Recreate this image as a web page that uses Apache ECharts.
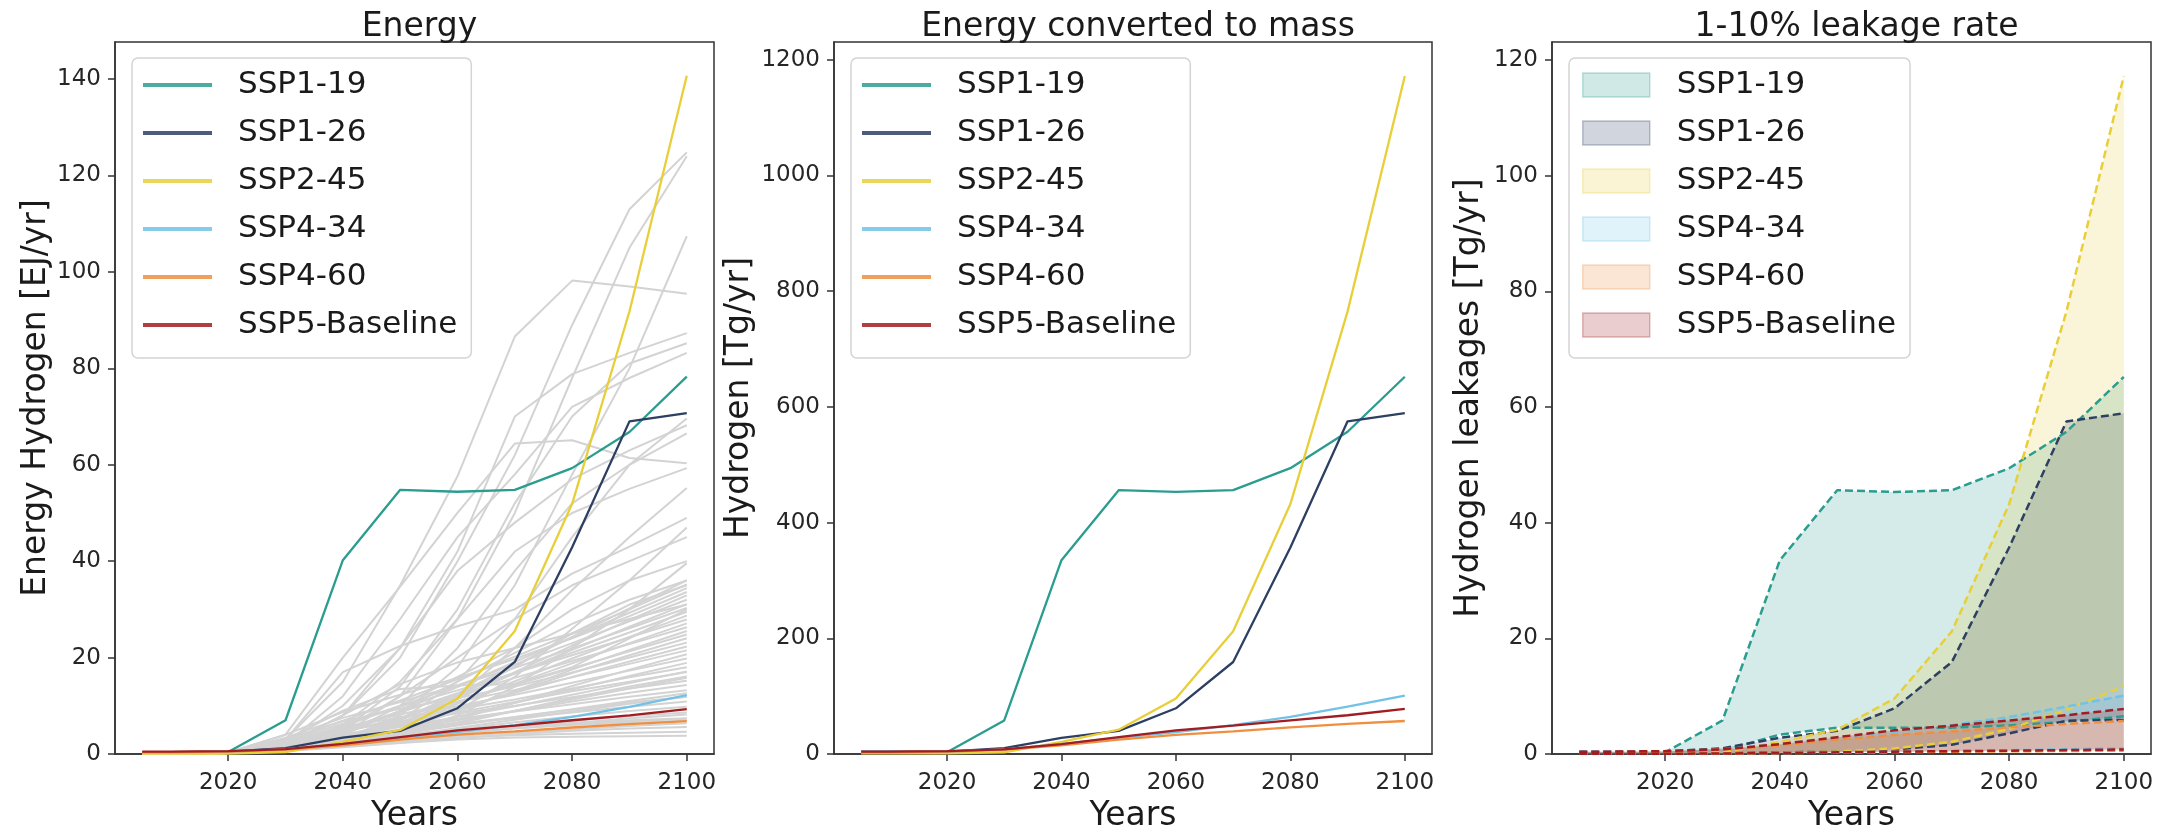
<!DOCTYPE html>
<html>
<head>
<meta charset="utf-8">
<script src="https://cdn.jsdelivr.net/npm/echarts@6/dist/echarts.min.js"></script>
<style>
html,body{margin:0;padding:0;background:#fff;overflow:hidden;}
#chart{width:2175px;height:838px;}
</style>
</head>
<body>
<div id="chart"></div>
<script>
// ---------- DATA ----------
const years = [2005, 2010, 2020, 2030, 2040, 2050, 2060, 2070, 2080, 2090, 2100];
const scenarios = ['SSP1-19', 'SSP1-26', 'SSP2-45', 'SSP4-34', 'SSP4-60', 'SSP5-Baseline'];
const scenarioColors = ['#2a9d8f', '#2d3f62', '#e8cf3a', '#72c2e6', '#ef8f3f', '#a11d21'];
const scenarioRGB = ['42,157,143', '45,63,98', '232,207,58', '114,194,230', '239,143,63', '161,29,33'];

const xTicks = [2020, 2040, 2060, 2080, 2100];
const energyTicks = [0, 20, 40, 60, 80, 100, 120, 140];
const massTicks = [0, 200, 400, 600, 800, 1000, 1200];
const leakTicks = [0, 20, 40, 60, 80, 100, 120];

const titles = ['Energy', 'Energy converted to mass', '1-10% leakage rate'];
const yNames = ['Energy Hydrogen [EJ/yr]', 'Hydrogen [Tg/yr]', 'Hydrogen leakages [Tg/yr]'];
const xName = 'Years';

// Panel 1: energy [EJ/yr]
const energySSP119 = [0.3, 0.3, 0.4, 7.0, 40.2, 54.8, 54.4, 54.8, 59.3, 66.8, 78.3];
const energySSP126 = [0.4, 0.4, 0.5, 1.2, 3.4, 4.8, 9.5, 19.1, 42.9, 69.0, 70.7];
const energySSP245 = [0.1, 0.1, 0.1, 0.4, 2.5, 5.0, 11.5, 25.5, 51.9, 91.8, 140.7];
const energySSP434 = [0.4, 0.4, 0.5, 1.0, 2.0, 3.4, 4.6, 6.0, 7.7, 9.8, 12.2];
const energySSP460 = [0.4, 0.4, 0.5, 0.9, 1.8, 3.0, 4.0, 4.7, 5.5, 6.2, 6.8];
const energySSP5 = [0.5, 0.5, 0.6, 1.0, 2.1, 3.5, 4.9, 5.9, 7.0, 8.0, 9.3];

// Panel 1: other scenarios (grey)
const otherScenarios = [
  [0, 0, 0.2, 2, 8, 20, 40, 62, 89, 113, 124.8],
  [0, 0, 0.2, 1, 4, 12, 28, 50, 78, 105, 124],
  [0, 0, 0.3, 3, 15, 35, 57.6, 86.6, 98.2, 97, 95.5],
  [0, 0, 0.2, 1, 3, 8, 18, 35, 58, 80, 107.4],
  [0, 0, 0.3, 2, 10, 22, 42, 70, 78.8, 83.2, 87.3],
  [0, 0, 0.2, 1, 5, 14, 30, 52, 70, 81, 85.2],
  [0, 0, 0.3, 4, 20, 34.7, 50, 64.4, 65.1, 61.4, 60.3],
  [0, 0, 0.2, 2, 12, 28, 45, 58, 72, 78, 83.2],
  [0, 0, 0.2, 1, 3, 7, 15, 28, 45, 60, 69.6],
  [0, 0, 0.2, 2, 8, 22, 38, 48, 57, 63, 68.2],
  [0, 0, 0.2, 1, 4, 10, 22, 38, 52, 60, 66.5],
  [0, 0, 0.2, 1.5, 6, 15, 28, 42, 50, 55, 59.3],
  [0, 0, 0.2, 1, 3, 6, 12, 22, 34, 45, 55.2],
  [0, 0, 0.2, 3, 17, 22.4, 26.5, 30, 37.4, 43, 49],
  [0, 0, 0.2, 1, 3, 5, 9, 16, 26, 36, 47],
  [0, 0, 0.2, 1, 5, 12, 20, 28, 35, 40, 45],
  [0, 0, 0.2, 2, 6, 10, 16, 22, 30, 36, 40],
  [0, 0, 0.2, 1, 2, 4, 8, 14, 22, 30, 39.6],
  [0, 0, 0.2, 1, 4, 9, 15, 21, 27, 32, 36],
  [0, 0, 0.2, 1, 3, 7, 12, 18, 25, 31, 35],
  [0.2, 0.2, 0.3, 3, 9, 13.5, 14.2, 14.5, 18, 24, 30],
  [0.2, 0.2, 0.3, 2, 8, 14.5, 19, 22, 25, 28, 31],
  [0.1, 0.1, 0.2, 0.6, 1.4, 2.3, 3.0, 3.4, 3.6, 3.7, 3.8],
  [0.2, 0.2, 0.3, 0.8, 1.7, 2.6, 3.4, 3.9, 4.2, 4.4, 4.6],
  [0.2, 0.2, 0.3, 0.7, 1.5, 2.4, 3.3, 4.1, 4.8, 5.3, 5.6],
  [0.3, 0.3, 0.4, 1.1, 2.1, 3.0, 3.8, 4.4, 5.1, 5.8, 6.4],
  [0.2, 0.2, 0.3, 0.9, 2.3, 3.5, 4.4, 5.3, 6.1, 6.8, 7.3],
  [0.2, 0.2, 0.3, 1.3, 2.9, 4.1, 5.0, 5.9, 6.9, 7.9, 8.6],
  [0.2, 0.2, 0.2, 0.8, 2.0, 3.6, 5.1, 6.6, 7.8, 8.9, 9.8],
  [0.3, 0.3, 0.4, 1.5, 3.4, 5.0, 6.3, 7.4, 8.6, 9.8, 10.9],
  [0.2, 0.2, 0.3, 1.0, 2.5, 4.2, 5.9, 7.6, 9.2, 10.7, 11.9],
  [0.2, 0.2, 0.3, 1.8, 4.1, 5.9, 7.3, 8.8, 10.3, 11.9, 13.2],
  [0.2, 0.2, 0.3, 1.2, 3.0, 5.1, 7.0, 8.9, 10.9, 12.7, 14.3],
  [0.3, 0.3, 0.4, 2.1, 4.8, 6.8, 8.4, 10.0, 11.8, 13.6, 15.2],
  [0.2, 0.2, 0.3, 0.9, 2.2, 4.0, 6.3, 8.9, 11.6, 14.0, 16.1],
  [0.2, 0.2, 0.3, 1.6, 3.9, 6.3, 8.6, 10.8, 13.0, 15.0, 17.0],
  [0.2, 0.2, 0.3, 2.6, 5.6, 7.6, 9.3, 11.3, 13.6, 15.9, 18.0],
  [0.2, 0.2, 0.3, 1.1, 2.7, 5.0, 7.8, 10.6, 13.4, 16.2, 18.9],
  [0.3, 0.3, 0.4, 1.9, 4.6, 7.3, 9.9, 12.3, 14.8, 17.3, 19.8],
  [0.2, 0.2, 0.3, 0.7, 1.9, 4.1, 7.2, 10.6, 14.1, 17.5, 20.7],
  [0.2, 0.2, 0.3, 2.3, 5.4, 8.2, 10.8, 13.3, 15.9, 18.7, 21.5],
  [0.2, 0.2, 0.3, 1.4, 3.6, 6.4, 9.5, 12.7, 16.0, 19.2, 22.3],
  [0.2, 0.2, 0.3, 3.0, 6.8, 9.4, 11.6, 14.0, 16.9, 20.0, 23.1],
  [0.3, 0.3, 0.4, 1.2, 3.1, 5.9, 9.2, 12.9, 16.8, 20.5, 24.0],
  [0.2, 0.2, 0.3, 1.7, 4.4, 7.6, 10.9, 14.3, 17.8, 21.3, 24.8],
  [0.2, 0.2, 0.3, 0.8, 2.3, 5.0, 8.8, 13.1, 17.5, 21.6, 25.5],
  [0.2, 0.2, 0.3, 2.0, 5.2, 8.8, 12.3, 15.8, 19.3, 22.8, 26.3],
  [0.2, 0.2, 0.3, 1.3, 3.4, 6.6, 10.5, 14.6, 18.8, 23.0, 27.1],
  [0.2, 0.2, 0.3, 2.7, 6.3, 9.8, 13.2, 16.8, 20.5, 24.2, 27.9],
  [0.3, 0.3, 0.4, 1.0, 2.8, 6.0, 10.4, 15.1, 19.8, 24.3, 28.7],
  [0.2, 0.2, 0.3, 1.9, 4.9, 8.6, 12.6, 16.8, 21.0, 25.2, 29.5],
  [0.2, 0.2, 0.3, 3.4, 7.5, 10.8, 14.2, 17.9, 21.9, 26.1, 30.3],
  [0.2, 0.2, 0.3, 1.2, 3.5, 7.2, 11.8, 16.7, 21.6, 26.4, 31.1],
  [0.2, 0.2, 0.3, 2.3, 5.8, 9.9, 14.2, 18.6, 23.0, 27.5, 32.0],
  [0.2, 0.2, 0.3, 0.9, 2.6, 6.3, 11.4, 17.0, 22.5, 27.8, 32.9],
  [0.2, 0.2, 0.3, 4.0, 8.7, 12.3, 15.8, 19.7, 24.0, 28.6, 33.6],
  [0.2, 0.2, 0.3, 1.6, 4.6, 8.9, 13.9, 19.1, 24.2, 29.3, 34.4],
  [0.2, 0.2, 0.3, 2.8, 6.9, 11.1, 15.5, 20.2, 25.0, 30.0, 35.2],
  [0.2, 0.2, 0.3, 1.1, 3.2, 7.1, 12.5, 18.4, 24.3, 30.2, 36.0],
  [0.2, 0.2, 0.3, 1.0, 2.4, 3.9, 5.0, 5.8, 6.5, 7.0, 7.4],
  [0.2, 0.2, 0.3, 0.8, 1.9, 3.1, 4.3, 5.4, 6.4, 7.4, 8.2],
  [0.2, 0.2, 0.3, 1.2, 2.6, 3.8, 4.7, 5.4, 6.0, 6.5, 6.9],
  [0.2, 0.2, 0.3, 0.9, 2.2, 3.7, 5.4, 7.1, 8.8, 10.4, 11.9],
  [0.2, 0.2, 0.3, 1.4, 3.1, 4.7, 6.2, 7.7, 9.3, 11.0, 12.6],
  [0.2, 0.2, 0.3, 1.1, 2.5, 4.4, 6.6, 9.0, 11.3, 13.6, 15.8],
  [0.2, 0.2, 0.3, 1.6, 3.6, 5.6, 7.7, 9.9, 12.3, 14.7, 17.1]
];

// Panel 2: mass [Tg/yr]
const massSSP119 = [3, 3, 3, 58, 335, 456, 453, 456, 494, 557, 652];
const massSSP126 = [4, 4, 4, 10, 28, 40, 79, 159, 357, 575, 589];
const massSSP245 = [1, 1, 1, 3, 21, 42, 96, 212, 432, 765, 1172];
const massSSP434 = [4, 4, 4, 8, 17, 28, 38, 50, 64, 82, 101];
const massSSP460 = [3, 3, 4, 7.5, 15, 25, 33, 39, 46, 52, 57];
const massSSP5 = [4, 4, 5, 8, 17, 29, 41, 49, 58, 67, 78];

// Panel 3: leakage band, 10% (upper) and 1% (lower) [Tg/yr]
const leakHighSSP119 = [0.3, 0.3, 0.3, 5.8, 33.5, 45.6, 45.3, 45.6, 49.4, 55.7, 65.2];
const leakLowSSP119 = [0.03, 0.03, 0.03, 0.58, 3.35, 4.56, 4.53, 4.56, 4.94, 5.57, 6.52];
const leakHighSSP126 = [0.4, 0.4, 0.4, 1.0, 2.8, 4.0, 7.9, 15.9, 35.7, 57.5, 58.9];
const leakLowSSP126 = [0.04, 0.04, 0.04, 0.1, 0.28, 0.4, 0.79, 1.59, 3.57, 5.75, 5.89];
const leakHighSSP245 = [0.1, 0.1, 0.1, 0.3, 2.1, 4.2, 9.6, 21.2, 43.2, 76.5, 117.2];
const leakLowSSP245 = [0.01, 0.01, 0.01, 0.03, 0.21, 0.42, 0.96, 2.12, 4.32, 7.65, 11.72];
const leakHighSSP434 = [0.4, 0.4, 0.4, 0.8, 1.7, 2.8, 3.8, 5.0, 6.4, 8.2, 10.1];
const leakLowSSP434 = [0.04, 0.04, 0.04, 0.08, 0.17, 0.28, 0.38, 0.5, 0.64, 0.82, 1.01];
const leakHighSSP460 = [0.3, 0.3, 0.4, 0.75, 1.5, 2.5, 3.3, 3.9, 4.6, 5.2, 5.7];
const leakLowSSP460 = [0.03, 0.03, 0.04, 0.08, 0.15, 0.25, 0.33, 0.39, 0.46, 0.52, 0.57];
const leakHighSSP5 = [0.4, 0.4, 0.5, 0.8, 1.7, 2.9, 4.1, 4.9, 5.8, 6.7, 7.8];
const leakLowSSP5 = [0.04, 0.04, 0.05, 0.08, 0.17, 0.29, 0.41, 0.49, 0.58, 0.67, 0.78];

// ---------- BUILD ----------
const energyData = [energySSP119, energySSP126, energySSP245, energySSP434, energySSP460, energySSP5];
const massData = [massSSP119, massSSP126, massSSP245, massSSP434, massSSP460, massSSP5];
const leakHigh = [leakHighSSP119, leakHighSSP126, leakHighSSP245, leakHighSSP434, leakHighSSP460, leakHighSSP5];
const leakLow = [leakLowSSP119, leakLowSSP126, leakLowSSP245, leakLowSSP434, leakLowSSP460, leakLowSSP5];

const FONT = "'DejaVu Sans', sans-serif";
const TXT = '#1a1a1a';
const pair = arr => years.map((y, i) => [y, arr[i]]);

const grids = [
  {left: 115, top: 42, width: 599, height: 721},
  {left: 834, top: 42, width: 598, height: 721},
  {left: 1552, top: 42, width: 599, height: 721}
];
const yMax = [147.7, 1230.6, 123.1];
const yTickSets = [energyTicks, massTicks, leakTicks];
const yNameGap = [60, 78, 66];

const fmt = v => String(v);

const option = {
  animation: false,
  backgroundColor: '#ffffff',
  textStyle: {fontFamily: FONT},
  title: titles.map((t, i) => ({
    text: t,
    left: grids[i].left + grids[i].width / 2,
    textAlign: 'center',
    top: 6,
    textStyle: {fontSize: 33, fontWeight: 'normal', color: TXT, fontFamily: FONT}
  })),
  grid: grids.map(g => Object.assign({show: true, borderColor: '#333', borderWidth: 1.5, backgroundColor: 'transparent', containLabel: false}, g)),
  xAxis: grids.map((g, i) => ({
    type: 'value', gridIndex: i, min: 2000.25, max: 2104.75,
    name: xName, nameLocation: 'middle', nameGap: 46,
    nameTextStyle: {fontSize: 33, color: TXT, fontFamily: FONT},
    axisLine: {show: true, onZero: false, lineStyle: {color: '#333', width: 1.5}},
    axisTick: {show: true, length: 7, customValues: xTicks, lineStyle: {color: '#333', width: 1.5}},
    axisLabel: {customValues: xTicks, fontSize: 23, color: '#262626', margin: 18, fontFamily: FONT, formatter: fmt},
    splitLine: {show: false}
  })),
  yAxis: grids.map((g, i) => ({
    type: 'value', gridIndex: i, min: 0, max: yMax[i],
    name: yNames[i], nameLocation: 'middle', nameGap: yNameGap[i], nameRotate: 90,
    nameTextStyle: {fontSize: 33, color: TXT, fontFamily: FONT},
    axisLine: {show: true, onZero: false, lineStyle: {color: '#333', width: 1.5}},
    axisTick: {show: true, length: 7, customValues: yTickSets[i], lineStyle: {color: '#333', width: 1.5}},
    axisLabel: {customValues: yTickSets[i], fontSize: 23, color: '#262626', margin: 14, fontFamily: FONT, formatter: fmt},
    splitLine: {show: false}
  })),
  legend: [0, 1, 2].map(i => {
    const box = [{left: 132}, {left: 851}, {left: 1569}][i];
    const isFill = i === 2;
    return {
      orient: 'vertical', left: box.left, top: 58,
      selectedMode: false,
      backgroundColor: 'rgba(255,255,255,0.85)',
      borderColor: '#d4d4d4', borderWidth: 1.5, borderRadius: 6,
      padding: [8, 14, 14, isFill ? 13 : 11],
      itemGap: 10,
      itemWidth: isFill ? 67 : 69,
      itemHeight: isFill ? 24 : 4,
      icon: 'rect',
      textStyle: {fontSize: 31, color: TXT, fontFamily: FONT, lineHeight: 38, padding: [0, 0, 0, isFill ? 22 : 21]},
      data: scenarios.map((s, k) => isFill ? {
        name: s, icon: 'rect',
        itemStyle: {color: 'rgba(' + scenarioRGB[k] + ',0.22)', borderColor: 'rgba(' + scenarioRGB[k] + ',0.3)', borderWidth: 1.5}
      } : {
        name: s, icon: 'rect',
        itemStyle: {color: 'rgba(' + scenarioRGB[k] + ',0.85)', borderWidth: 0}
      })
    };
  }),
  series: []
};

// Panel 1 grey lines
otherScenarios.forEach((arr) => {
  option.series.push({
    type: 'line', name: 'other', xAxisIndex: 0, yAxisIndex: 0, data: pair(arr),
    symbol: 'none', silent: true, z: 1,
    lineStyle: {color: '#d3d3d3', width: 2}, itemStyle: {color: '#d3d3d3'}
  });
});
// Panel 1 & 2 coloured lines
[energyData, massData].forEach((set, p) => {
  set.forEach((arr, k) => {
    option.series.push({
      type: 'line', name: scenarios[k], xAxisIndex: p, yAxisIndex: p, data: pair(arr),
      symbol: 'none', z: 3 + k,
      lineStyle: {color: scenarioColors[k], width: 2.3}, itemStyle: {color: scenarioColors[k]}
    });
  });
});
// Panel 3 bands (filled between 1% and 10% lines), drawn through the axis scales
leakHigh.forEach((hi, k) => {
  const lo = leakLow[k];
  const fill = 'rgba(' + scenarioRGB[k] + ',0.2)';
  option.series.push({
    type: 'custom', name: scenarios[k], xAxisIndex: 2, yAxisIndex: 2,
    silent: true, z: 2, clip: true,
    itemStyle: {color: fill},
    data: [[years[0], lo[0]]],
    renderItem: (params, api) => {
      const pts = [];
      for (let i = 0; i < years.length; i++) pts.push(api.coord([years[i], hi[i]]));
      for (let i = years.length - 1; i >= 0; i--) pts.push(api.coord([years[i], lo[i]]));
      return {type: 'polygon', shape: {points: pts}, style: {fill: fill, stroke: null}};
    }
  });
});
leakHigh.forEach((hi, k) => {
  [hi, leakLow[k]].forEach(arr => {
    option.series.push({
      type: 'line', name: scenarios[k], xAxisIndex: 2, yAxisIndex: 2, data: pair(arr),
      symbol: 'none', silent: true, z: 5 + k,
      lineStyle: {color: scenarioColors[k], width: 2.5, type: [8, 4]}, itemStyle: {color: scenarioColors[k]}
    });
  });
});

const chart = echarts.init(document.getElementById('chart'), null, {renderer: 'canvas', width: 2175, height: 838});
chart.setOption(option);
</script>
</body>
</html>
